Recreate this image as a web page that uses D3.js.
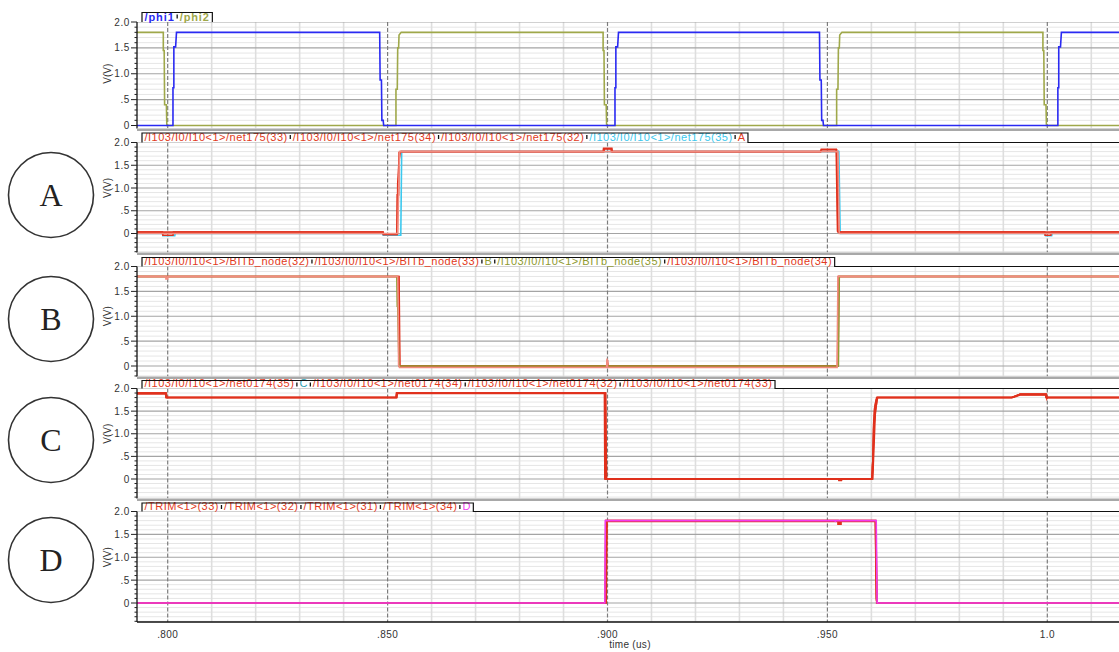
<!DOCTYPE html>
<html>
<head>
<meta charset="utf-8">
<script src="https://cdn.jsdelivr.net/npm/d3@7"></script>
<style>
body { margin: 0; background: #fff; }
svg { display: block; font-family: "Liberation Sans", Arial, sans-serif; }
</style>
</head>
<body>
<div id="chart"></div>
<script>
// axes
var timeDomain = [0.79302, 1.0163];
var timeTicks = [0.80, 0.85, 0.90, 0.95, 1.0];
var timeTickLabels = ['.800', '.850', '.900', '.950', '1.0'];
var voltTicks = [0, 0.5, 1.0, 1.5, 2.0];
var voltTickLabels = ['0', '.5', '1.0', '1.5', '2.0'];
var circleLabels = ['A', 'B', 'C', 'D'];

// clocks [time (us), V]
var phi1 = [[0.7930,0],[0.8012,0],[0.8012,0.73],[0.8014,0.73],[0.8014,1.52],[0.8018,1.52],[0.8020,1.8],
    [0.8482,1.8],[0.8483,0.88],[0.8486,0.88],[0.8487,0.1],[0.8490,0.1],[0.8491,0],
    [0.9017,0],[0.9017,0.73],[0.9019,0.73],[0.9019,1.52],[0.9023,1.52],[0.9025,1.8],
    [0.9482,1.8],[0.9483,0.88],[0.9486,0.88],[0.9487,0.1],[0.9490,0.1],[0.9491,0],
    [1.0024,0],[1.0024,0.73],[1.0026,0.73],[1.0026,1.52],[1.0030,1.52],[1.0032,1.8],[1.0163,1.8]];
var phi2 = [[0.7930,1.8],[0.7990,1.8],[0.7990,1.45],[0.7992,1.45],[0.7993,0.4],[0.7997,0.4],[0.7998,0],
    [0.8519,0],[0.8519,0.7],[0.8522,0.7],[0.8523,1.5],[0.8525,1.5],[0.8526,1.75],[0.8531,1.8],
    [0.8990,1.8],[0.8990,1.45],[0.8992,1.45],[0.8993,0.4],[0.8997,0.4],[0.8998,0],
    [0.9521,0],[0.9521,0.7],[0.9524,0.7],[0.9525,1.5],[0.9527,1.5],[0.9528,1.75],[0.9533,1.8],
    [0.9990,1.8],[0.9990,1.45],[0.9992,1.45],[0.9993,0.4],[0.9997,0.4],[0.9998,0],[1.0163,0]];

// A: net175
var net175_33 = [[0.7930,0.03],[0.7988,0.03],[0.7989,-0.04],[0.8012,-0.04],[0.8013,0.03],[0.8489,0.03],[0.8490,-0.02],
    [0.8521,-0.02],[0.8522,0.85],[0.8525,0.85],[0.8526,1.78],[0.8530,1.8],[0.8990,1.8],[0.8991,1.87],[0.9010,1.87],
    [0.9011,1.8],[0.9484,1.8],[0.9486,1.85],[0.9520,1.85],[0.9523,0.05],[0.9525,0.03],[0.9994,0.03],[0.9995,-0.04],
    [1.0008,-0.04],[1.0009,0.03],[1.0163,0.03]];
var net175_34 = [[0.7930,0.03],[0.8490,0.03],[0.8491,-0.02],[0.8522,-0.02],[0.8523,1.1],[0.8526,1.6],[0.8529,1.8],
    [0.8992,1.8],[0.8993,1.86],[0.9008,1.86],[0.9009,1.8],[0.9485,1.8],[0.9487,1.84],[0.9521,1.84],[0.9524,0.04],
    [0.9526,0.03],[1.0163,0.03]];
var net175_32 = [[0.7930,0.0],[0.8523,0.0],[0.8527,1.8],[0.9524,1.8],[0.9527,0.0],[1.0163,0.0]];
var net175_35 = [[0.7930,0.0],[0.7988,0.0],[0.7989,-0.05],[0.8016,-0.05],[0.8017,0.0],[0.8489,0.0],[0.8490,-0.04],
    [0.8530,-0.04],[0.8532,1.8],[0.9525,1.8],[0.9526,1.82],[0.9529,0.05],[0.9530,0.0],[0.9995,0.0],[0.9996,-0.05],
    [1.0010,-0.05],[1.0011,0.0],[1.0163,0.0]];

// B: BITb_node
var bitb_32 = [[0.7930,1.8],[0.7996,1.8],[0.7996,1.75],[0.8000,1.75],[0.8000,1.8],[0.8523,1.8],[0.8524,1.3],
    [0.8525,0.02],[0.8527,-0.03],[0.8998,-0.03],[0.8999,0.15],[0.9000,-0.03],[0.9522,-0.03],[0.9524,1.8],[1.0163,1.8]];
var bitb_33 = [[0.7930,1.8],[0.8525,1.8],[0.8527,0.0],[0.8999,0.0],[0.9000,0.12],[0.9001,0.0],[0.9523,0.0],
    [0.9525,1.8],[1.0163,1.8]];
var bitb_35 = [[0.7930,1.8],[0.8521,1.8],[0.8522,1.2],[0.8523,1.2],[0.8526,0.0],[0.9525,0.0],[0.9527,1.8],[1.0163,1.8]];
var bitb_34 = [[0.7930,1.8],[0.8526,1.8],[0.8528,0.0],[0.9524,0.0],[0.9526,1.8],[1.0163,1.8]];

// C: net0174
var net0174_35 = [[0.7930,1.9],[0.7995,1.9],[0.7996,1.8],[0.8520,1.8],[0.8521,1.9],[0.8994,1.9],[0.8995,0.0],
    [0.9525,0.0],[0.9526,-0.03],[0.9532,-0.03],[0.9533,0.0],[0.9601,0.0],[0.9602,0.3],[0.9604,0.45],[0.9605,1.1],
    [0.9608,1.6],[0.9611,1.75],[0.9614,1.8],[0.9919,1.8],[0.9938,1.87],[0.9996,1.87],[0.9997,1.8],[1.0163,1.8]];
var net0174_34 = [[0.7930,1.9],[0.7997,1.9],[0.7998,1.8],[0.8519,1.8],[0.8520,1.9],[0.8996,1.9],[0.8997,0.0],
    [0.9601,0.0],[0.9603,0.2],[0.9605,1.2],[0.9607,1.55],[0.9612,1.8],[0.9920,1.8],[0.9939,1.88],[0.9998,1.88],
    [0.9999,1.78],[1.0000,1.8],[1.0163,1.8]];
var net0174_32 = [[0.7930,1.88],[0.7996,1.88],[0.7997,1.8],[0.8521,1.8],[0.8522,1.89],[0.8993,1.89],[0.8994,0.0],
    [0.9602,0.0],[0.9606,1.2],[0.9613,1.8],[0.9921,1.8],[0.9940,1.86],[0.9997,1.86],[0.9998,1.8],[1.0163,1.8]];
var net0174_33 = [[0.7930,1.9],[0.7996,1.9],[0.7997,1.8],[0.8520,1.8],[0.8521,1.9],[0.8995,1.9],[0.8998,0.0],
    [0.9603,0.0],[0.9609,1.5],[0.9614,1.8],[0.9919,1.8],[0.9938,1.87],[0.9997,1.87],[0.9998,1.8],[1.0163,1.8]];

// D: TRIM<1>
var trim_33 = [[0.7930,0.0],[0.8995,0.0],[0.8997,1.8],[0.9524,1.8],[0.9524,1.72],[0.9531,1.72],[0.9531,1.8],
    [0.9609,1.8],[0.9611,0.1],[0.9613,0.0],[1.0163,0.0]];
var trim_32 = [[0.7930,0.0],[0.8996,0.0],[0.8998,1.79],[0.9526,1.79],[0.9526,1.74],[0.9529,1.74],[0.9529,1.79],
    [0.9610,1.79],[0.9613,0.0],[1.0163,0.0]];
var trim_31 = [[0.7930,0.0],[0.8994,0.0],[0.8996,1.8],[0.9610,1.8],[0.9612,0.0],[1.0163,0.0]];
var trim_34 = [[0.7930,0.0],[0.8997,0.0],[0.8999,1.78],[0.9609,1.78],[0.9612,0.05],[0.9613,0.0],[1.0163,0.0]];
var traceD = [[0.7930,0.0],[0.8994,0.0],[0.8995,1.8],[0.9518,1.8],[0.9518,1.77],[0.9519,1.8],[0.9611,1.8],
    [0.9613,0.0],[1.0163,0.0]];

var RED = '#e0301c', SALMON = '#f28c80', CYAN = '#3cc8ee', OLIVE = '#8f9a30',
    BLUE = '#2a2af2', PHI2 = '#9fa84a', MAGENTA = '#f03cf0', TEAL = '#2aa0b4', LEG_RED = '#e23a22';

var width = 1119, height = 652;
var plotLeft = 137, plotRight = 1119;

var panels = [
    {tabTop: 12.5, top: 22, zero: 125.5, bottom: 128.5, frame: false, bold: true,
        legend: [['/phi1', BLUE], ['/phi2', PHI2]],
        traces: [[phi2, PHI2], [phi1, BLUE]]},
    {tabTop: 133, top: 142.5, zero: 233.5, bottom: 252.5, frame: true,
        legend: [['/I103/I0/I10<1>/net175(33)', LEG_RED], ['/I103/I0/I10<1>/net175(34)', LEG_RED],
            ['/I103/I0/I10<1>/net175(32)', LEG_RED], ['/I103/I0/I10<1>/net175(35)', CYAN], ['A', LEG_RED]],
        traces: [[net175_35, CYAN], [net175_33, RED], [net175_34, RED], [net175_32, SALMON]]},
    {tabTop: 257.5, top: 266.5, zero: 366, bottom: 376.5, frame: true,
        legend: [['/I103/I0/I10<1>/BITb_node(32)', LEG_RED], ['/I103/I0/I10<1>/BITb_node(33)', LEG_RED], ['B', OLIVE],
            ['/I103/I0/I10<1>/BITb_node(35)', OLIVE], ['/I103/I0/I10<1>/BITb_node(34)', LEG_RED]],
        traces: [[bitb_33, RED], [bitb_34, RED], [bitb_35, OLIVE], [bitb_32, SALMON]]},
    {tabTop: 380.5, top: 388.5, zero: 479, bottom: 498.5, frame: true,
        legend: [['/I103/I0/I10<1>/net0174(35)', LEG_RED], ['C', TEAL], ['/I103/I0/I10<1>/net0174(34)', LEG_RED],
            ['/I103/I0/I10<1>/net0174(32)', LEG_RED], ['/I103/I0/I10<1>/net0174(33)', LEG_RED]],
        traces: [[net0174_32, RED], [net0174_33, RED], [net0174_34, RED], [net0174_35, RED]]},
    {tabTop: 503, top: 511.5, zero: 603, bottom: 622, frame: true,
        legend: [['/TRIM<1>(33)', LEG_RED], ['/TRIM<1>(32)', LEG_RED], ['/TRIM<1>(31)', LEG_RED],
            ['/TRIM<1>(34)', LEG_RED], ['D', MAGENTA]],
        traces: [[trim_31, RED], [trim_34, RED], [trim_32, RED], [trim_33, RED], [traceD, MAGENTA]]}
];
var circleY = [195, 319, 440, 560];

var svg = d3.select('#chart').append('svg')
    .attr('width', width)
    .attr('height', height);
svg.append('rect').attr('width', width).attr('height', height).attr('fill', '#fff');

var x = d3.scaleLinear().domain(timeDomain).range([plotLeft, plotRight]);

var minorTimes = d3.range(79, 102).map(function(d){ return d / 100; })
    .filter(function(d){ return Math.round(d * 100) % 5 !== 0; });

function drawPanel(p, i){
    var y = d3.scaleLinear().domain([0, 2]).range([p.zero, p.top]);
    var g = svg.append('g');
    var clipId = 'clip' + i;
    svg.append('clipPath').attr('id', clipId).append('rect')
        .attr('x', plotLeft)
        .attr('y', p.top)
        .attr('width', plotRight - plotLeft)
        .attr('height', p.bottom - p.top);
    var grid = g.append('g').attr('clip-path', 'url(#' + clipId + ')');

    var vMin = y.invert(p.bottom);
    var volts = d3.range(Math.ceil(vMin * 10), 21).map(function(d){ return d / 10; });
    var minorVolts = volts.filter(function(d){ return Math.round(d * 10) % 5 !== 0; });
    var majorVolts = volts.filter(function(d){ return Math.round(d * 10) % 5 === 0; });

    grid.selectAll('line.hmin').data(minorVolts).enter().append('line')
        .attr('x1', plotLeft).attr('x2', plotRight)
        .attr('y1', function(d){ return y(d); }).attr('y2', function(d){ return y(d); })
        .attr('stroke', '#e6e6e6').attr('stroke-width', 1);
    grid.selectAll('line.vmin').data(minorTimes).enter().append('line')
        .attr('x1', function(d){ return x(d); }).attr('x2', function(d){ return x(d); })
        .attr('y1', p.top).attr('y2', p.bottom)
        .attr('stroke', '#dedede').attr('stroke-width', 1.6);
    grid.selectAll('line.hmaj').data(majorVolts).enter().append('line')
        .attr('x1', plotLeft).attr('x2', plotRight)
        .attr('y1', function(d){ return y(d); }).attr('y2', function(d){ return y(d); })
        .attr('stroke', '#a4a4a4').attr('stroke-width', 1.2);
    grid.selectAll('line.vmaj').data(timeTicks).enter().append('line')
        .attr('x1', function(d){ return x(d); }).attr('x2', function(d){ return x(d); })
        .attr('y1', p.top).attr('y2', p.bottom)
        .attr('stroke', '#7c7c7c').attr('stroke-width', 1.2)
        .attr('stroke-dasharray', '4,2');

    var line = d3.line()
        .x(function(d){ return x(d[0]); })
        .y(function(d){ return y(d[1]); });
    grid.selectAll('path.trace').data(p.traces).enter().append('path')
        .attr('d', function(d){ return line(d[0]); })
        .attr('fill', 'none')
        .attr('stroke', function(d){ return d[1]; })
        .attr('stroke-width', 1.6);

    // y axis
    g.append('line')
        .attr('x1', plotLeft).attr('x2', plotLeft)
        .attr('y1', p.top).attr('y2', p.bottom)
        .attr('stroke', '#111').attr('stroke-width', 1.3);
    g.selectAll('line.ymin').data(volts).enter().append('line')
        .attr('x1', function(d){ return Math.round(d * 10) % 5 === 0 ? plotLeft - 6 : plotLeft - 2.5; })
        .attr('x2', plotLeft)
        .attr('y1', function(d){ return y(d); }).attr('y2', function(d){ return y(d); })
        .attr('stroke', '#222').attr('stroke-width', 1);
    g.selectAll('text.ylab').data(voltTicks).enter().append('text')
        .attr('x', plotLeft - 7)
        .attr('y', function(d){ return y(d); })
        .attr('dy', '0.35em')
        .attr('text-anchor', 'end')
        .attr('font-size', 10)
        .attr('letter-spacing', 0.6)
        .attr('fill', '#333')
        .text(function(d, k){ return voltTickLabels[k]; });
    g.append('text')
        .attr('transform', 'translate(111,' + y(1) + ') rotate(-90)')
        .attr('text-anchor', 'middle')
        .attr('font-size', 10)
        .attr('fill', '#333')
        .text('V(V)');

    // legend tabs
    var tabs = g.append('g');
    var cursor = plotLeft + 5;
    var start = cursor;
    p.legend.forEach(function(item, k){
        if(k > 0){
            tabs.append('line')
                .attr('x1', cursor).attr('x2', cursor)
                .attr('y1', p.tabTop + 2).attr('y2', p.tabTop + 6)
                .attr('stroke', '#111').attr('stroke-width', 1.3);
        }
        var t = tabs.append('text')
            .attr('x', cursor + 2.5)
            .attr('y', p.top - 1.5)
            .attr('font-size', 11)
            .attr('font-weight', p.bold ? 'bold' : 'normal')
            .attr('letter-spacing', p.bold ? 0.9 : 0.5)
            .attr('fill', item[1])
            .text(item[0]);
        cursor += t.node().getComputedTextLength() + 5;
    });
    var outline = 'M' + start + ',' + p.top + 'V' + p.tabTop + 'H' + cursor + 'V' + p.top;
    if(p.frame){
        outline += 'H' + plotRight;
    }
    tabs.append('path')
        .attr('d', outline)
        .attr('fill', 'none')
        .attr('stroke', '#111')
        .attr('stroke-width', 1.2);

    if(i < panels.length - 1){
        svg.append('rect')
            .attr('x', plotLeft)
            .attr('y', p.bottom)
            .attr('width', plotRight - plotLeft)
            .attr('height', 2.5)
            .attr('fill', '#a8a8a8');
    }
}

panels.forEach(drawPanel);

// time axis
var axisY = panels[panels.length - 1].bottom;
svg.append('line')
    .attr('x1', plotLeft).attr('x2', plotRight)
    .attr('y1', axisY).attr('y2', axisY)
    .attr('stroke', '#111').attr('stroke-width', 1.5);
svg.selectAll('text.xlab').data(timeTicks).enter().append('text')
    .attr('x', function(d){ return x(d); })
    .attr('y', axisY + 16)
    .attr('text-anchor', 'middle')
    .attr('font-size', 10)
    .attr('letter-spacing', 0.4)
    .attr('fill', '#333')
    .text(function(d, k){ return timeTickLabels[k]; });
svg.append('text')
    .attr('x', 630)
    .attr('y', axisY + 26)
    .attr('text-anchor', 'middle')
    .attr('font-size', 10)
    .attr('letter-spacing', 0.3)
    .attr('fill', '#333')
    .text('time (us)');

// circled letters
var marks = svg.selectAll('g.mark').data(circleLabels).enter().append('g')
    .attr('transform', function(d, k){ return 'translate(51,' + circleY[k] + ')'; });
marks.append('circle')
    .attr('r', 42.5)
    .attr('fill', '#fff')
    .attr('stroke', '#333')
    .attr('stroke-width', 1.6);
marks.append('text')
    .attr('text-anchor', 'middle')
    .attr('dy', '0.35em')
    .attr('font-family', '"Liberation Serif", "Times New Roman", serif')
    .attr('font-size', 32)
    .attr('fill', '#222')
    .text(function(d){ return d; });
</script>
</body>
</html>
